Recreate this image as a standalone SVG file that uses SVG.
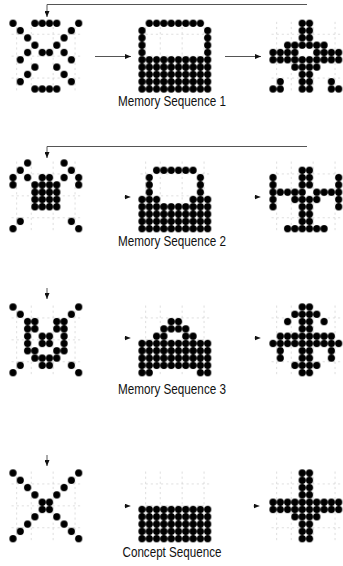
<svg xmlns="http://www.w3.org/2000/svg" xmlns:xlink="http://www.w3.org/1999/xlink" width="343" height="566" viewBox="0 0 343 566">
<style>
.g rect{fill:url(#dots)}
.c path{fill:none;stroke:#555;stroke-width:1}
.c path.s{stroke:#999;stroke-width:0.8}
.lbl{font-family:"Liberation Sans",Arial,Helvetica,sans-serif;font-size:15px;fill:#111;text-anchor:middle}
</style>
<defs>
<pattern id="dots" patternUnits="userSpaceOnUse" width="1" height="1"><circle cx="0.5" cy="0.5" r="0.49" fill="#000"/></pattern>
<g id="faint" stroke="#c8c8c8" stroke-width="0.08" stroke-dasharray="0.3 0.4" fill="none">
<line x1="0.3" y1="2" x2="9.7" y2="2"/>
<line x1="0.3" y1="5" x2="9.7" y2="5"/>
<line x1="0.3" y1="8" x2="9.7" y2="8"/>
<line x1="1" y1="0.3" x2="1" y2="9.7"/>
<line x1="3" y1="0.3" x2="3" y2="9.7"/>
<line x1="6" y1="0.3" x2="6" y2="9.7"/>
<line x1="9" y1="0.3" x2="9" y2="9.7"/>
</g>
<marker id="ah" viewBox="0 0 6 5" refX="6" refY="2.5" markerWidth="6" markerHeight="5" markerUnits="userSpaceOnUse" orient="auto"><path d="M0,0L6,2.5L0,5z" fill="#111"/></marker>
</defs>

<g id="connectors" class="c">
<path d="M307,4.5H47V17" marker-end="url(#ah)"/>
<path d="M95,56.5H131" marker-end="url(#ah)"/>
<path d="M225,56.5H261" marker-end="url(#ah)"/>
<path d="M307,146.5H47V158" marker-end="url(#ah)"/>
<path class="s" d="M124,197H130.5" marker-end="url(#ah)"/>
<path class="s" d="M254,197H260.5" marker-end="url(#ah)"/>
<path d="M47,288V299" marker-end="url(#ah)"/>
<path class="s" d="M124,338H130.5" marker-end="url(#ah)"/>
<path class="s" d="M254,338H260.5" marker-end="url(#ah)"/>
<path d="M47,455V466" marker-end="url(#ah)"/>
<path class="s" d="M124,506H130.5" marker-end="url(#ah)"/>
<path class="s" d="M253,506H259.5" marker-end="url(#ah)"/>
</g>

<!-- Memory Sequence 1 -->
<g id="seq1-a" class="g" transform="translate(9.35,19.65) scale(7.3)">
<use href="#faint" xlink:href="#faint"/>
<rect x="0" y="0" width="1" height="1"/><rect x="3" y="0" width="4" height="1"/><rect x="9" y="0" width="1" height="1"/>
<rect x="1" y="1" width="1" height="1"/><rect x="8" y="1" width="1" height="1"/>
<rect x="2" y="2" width="1" height="1"/><rect x="7" y="2" width="1" height="1"/>
<rect x="3" y="3" width="1" height="1"/><rect x="6" y="3" width="1" height="1"/>
<rect x="2" y="4" width="1" height="1"/><rect x="4" y="4" width="2" height="1"/><rect x="7" y="4" width="1" height="1"/>
<rect x="1" y="5" width="1" height="1"/><rect x="8" y="5" width="1" height="1"/>
<rect x="3" y="6" width="1" height="1"/><rect x="6" y="6" width="1" height="1"/>
<rect x="2" y="7" width="1" height="1"/><rect x="7" y="7" width="1" height="1"/>
<rect x="1" y="8" width="1" height="1"/><rect x="8" y="8" width="1" height="1"/>
<rect x="3" y="9" width="4" height="1"/>
</g>
<g id="seq1-b" class="g" transform="translate(138.35,19.65) scale(7.3)">
<use href="#faint" xlink:href="#faint"/>
<rect x="1" y="0" width="8" height="1"/>
<rect x="0" y="1" width="1" height="4"/><rect x="9" y="1" width="1" height="4"/>
<rect x="0" y="5" width="10" height="5"/>
</g>
<g id="seq1-c" class="g" transform="translate(269.35,19.65) scale(7.3)">
<use href="#faint" xlink:href="#faint"/>
<rect x="4" y="0" width="2" height="3"/>
<rect x="2" y="3" width="6" height="1"/>
<rect x="0" y="4" width="4" height="1"/><rect x="6" y="4" width="4" height="1"/>
<rect x="0" y="5" width="10" height="1"/>
<rect x="3" y="6" width="4" height="1"/>
<rect x="4" y="7" width="2" height="3"/>
<rect x="1" y="8" width="1" height="1"/><rect x="8" y="8" width="1" height="1"/>
<rect x="0" y="9" width="2" height="1"/><rect x="8" y="9" width="2" height="1"/>
</g>
<text class="lbl" x="172" y="105.5" textLength="108" lengthAdjust="spacingAndGlyphs">Memory Sequence 1</text>

<!-- Memory Sequence 2 -->
<g id="seq2-a" class="g" transform="translate(9.35,159.35) scale(7.3)">
<use href="#faint" xlink:href="#faint"/>
<rect x="2" y="0" width="1" height="1"/><rect x="7" y="0" width="1" height="1"/>
<rect x="1" y="1" width="1" height="1"/><rect x="8" y="1" width="1" height="1"/>
<rect x="0" y="2" width="1" height="2"/><rect x="2" y="2" width="1" height="1"/><rect x="4" y="2" width="2" height="1"/><rect x="7" y="2" width="1" height="1"/><rect x="9" y="2" width="1" height="2"/>
<rect x="3" y="3" width="4" height="4"/>
<rect x="1" y="8" width="1" height="1"/><rect x="8" y="8" width="1" height="1"/>
<rect x="0" y="9" width="1" height="1"/><rect x="9" y="9" width="1" height="1"/>
</g>
<g id="seq2-b" class="g" transform="translate(138.35,159.35) scale(7.3)">
<use href="#faint" xlink:href="#faint"/>
<rect x="2" y="1" width="6" height="1"/>
<rect x="1" y="2" width="1" height="3"/><rect x="8" y="2" width="1" height="3"/>
<rect x="0" y="5" width="3" height="1"/><rect x="7" y="5" width="3" height="1"/>
<rect x="0" y="6" width="10" height="4"/>
</g>
<g id="seq2-c" class="g" transform="translate(269.35,159.35) scale(7.3)">
<use href="#faint" xlink:href="#faint"/>
<rect x="4" y="1" width="2" height="3"/>
<rect x="0" y="2" width="1" height="5"/><rect x="9" y="2" width="1" height="5"/>
<rect x="1" y="4" width="4" height="1"/><rect x="6" y="4" width="3" height="1"/>
<rect x="3" y="5" width="4" height="1"/>
<rect x="4" y="6" width="2" height="3"/>
<rect x="2" y="9" width="6" height="1"/>
</g>
<text class="lbl" x="172" y="245.5" textLength="108" lengthAdjust="spacingAndGlyphs">Memory Sequence 2</text>

<!-- Memory Sequence 3 -->
<g id="seq3-a" class="g" transform="translate(9.35,303.35) scale(7.3)">
<use href="#faint" xlink:href="#faint"/>
<rect x="0" y="0" width="1" height="1"/><rect x="9" y="0" width="1" height="1"/>
<rect x="1" y="1" width="1" height="1"/><rect x="8" y="1" width="1" height="1"/>
<rect x="2" y="2" width="2" height="2"/><rect x="6" y="2" width="2" height="2"/>
<rect x="2" y="4" width="1" height="2"/><rect x="4" y="4" width="2" height="2"/><rect x="7" y="4" width="1" height="2"/>
<rect x="2" y="6" width="2" height="1"/><rect x="6" y="6" width="2" height="1"/>
<rect x="3" y="7" width="4" height="1"/>
<rect x="1" y="8" width="1" height="1"/><rect x="4" y="8" width="2" height="1"/><rect x="8" y="8" width="1" height="1"/>
<rect x="0" y="9" width="1" height="1"/><rect x="9" y="9" width="1" height="1"/>
</g>
<g id="seq3-b" class="g" transform="translate(138.35,303.35) scale(7.3)">
<use href="#faint" xlink:href="#faint"/>
<rect x="4" y="2" width="2" height="1"/>
<rect x="3" y="3" width="4" height="1"/>
<rect x="2" y="4" width="2" height="1"/><rect x="6" y="4" width="2" height="1"/>
<rect x="0" y="5" width="10" height="4"/>
<rect x="0" y="9" width="2" height="1"/><rect x="8" y="9" width="2" height="1"/>
</g>
<g id="seq3-c" class="g" transform="translate(269.35,303.35) scale(7.3)">
<use href="#faint" xlink:href="#faint"/>
<rect x="4" y="0" width="2" height="1"/>
<rect x="3" y="1" width="4" height="1"/>
<rect x="2" y="2" width="1" height="1"/><rect x="4" y="2" width="2" height="2"/><rect x="7" y="2" width="1" height="1"/>
<rect x="1" y="4" width="8" height="1"/>
<rect x="0" y="5" width="10" height="1"/>
<rect x="1" y="6" width="1" height="2"/><rect x="4" y="6" width="2" height="2"/><rect x="8" y="6" width="1" height="2"/>
<rect x="3" y="8" width="4" height="1"/>
<rect x="4" y="9" width="2" height="1"/>
</g>
<text class="lbl" x="172" y="393.5" textLength="108" lengthAdjust="spacingAndGlyphs">Memory Sequence 3</text>

<!-- Concept Sequence -->
<g id="concept-a" class="g" transform="translate(9.35,469.35) scale(7.3)">
<use href="#faint" xlink:href="#faint"/>
<rect x="0" y="0" width="1" height="1"/><rect x="9" y="0" width="1" height="1"/>
<rect x="1" y="1" width="1" height="1"/><rect x="8" y="1" width="1" height="1"/>
<rect x="2" y="2" width="1" height="1"/><rect x="7" y="2" width="1" height="1"/>
<rect x="3" y="3" width="1" height="1"/><rect x="6" y="3" width="1" height="1"/>
<rect x="4" y="4" width="2" height="2"/>
<rect x="3" y="6" width="1" height="1"/><rect x="6" y="6" width="1" height="1"/>
<rect x="2" y="7" width="1" height="1"/><rect x="7" y="7" width="1" height="1"/>
<rect x="1" y="8" width="1" height="1"/><rect x="8" y="8" width="1" height="1"/>
<rect x="0" y="9" width="1" height="1"/><rect x="9" y="9" width="1" height="1"/>
</g>
<g id="concept-b" class="g" transform="translate(138.35,469.35) scale(7.3)">
<use href="#faint" xlink:href="#faint"/>
<rect x="0" y="5" width="10" height="5"/>
</g>
<g id="concept-c" class="g" transform="translate(269.35,469.35) scale(7.3)">
<use href="#faint" xlink:href="#faint"/>
<rect x="4" y="0" width="2" height="4"/>
<rect x="0" y="4" width="10" height="2"/>
<rect x="3" y="6" width="4" height="1"/>
<rect x="4" y="7" width="2" height="3"/>
</g>
<text class="lbl" x="172" y="556.5" textLength="99" lengthAdjust="spacingAndGlyphs">Concept Sequence</text>
</svg>
